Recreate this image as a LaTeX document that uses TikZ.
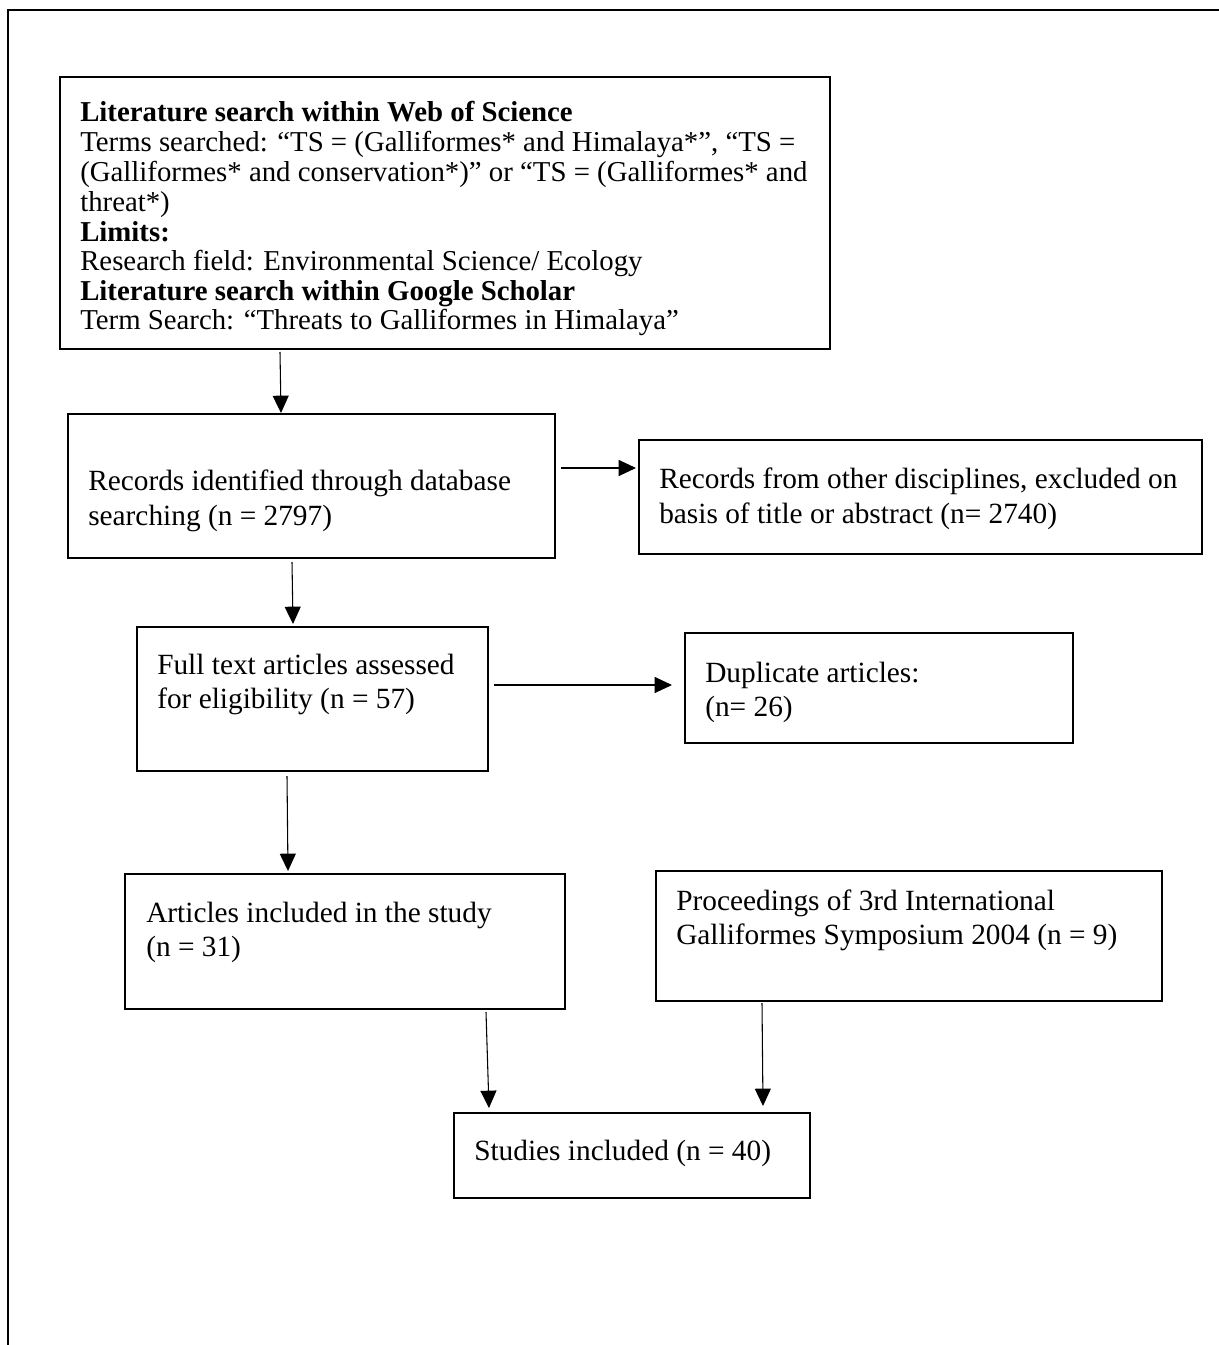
\documentclass[tikz,border=0pt]{standalone}
\usepackage{fontspec}
\setmainfont{Liberation Serif}
\usetikzlibrary{arrows.meta}
\begin{document}
\begin{tikzpicture}[x=0.75pt,y=-0.75pt,
  boxline/.style={draw=black,line width=1.7pt,inner sep=0pt,anchor=north west},
  frameline/.style={draw=black,line width=1.7pt},
  arr/.style={draw=black,line width=0.8pt,-{Triangle[length=13pt,width=12pt]}},
  txt/.style={anchor=base west,inner sep=0pt,font=\fontsize{22pt}{26pt}\selectfont},
  toptxt/.style={txt,font=\fontsize{21.6pt}{26pt}\selectfont}
]
\useasboundingbox (0,0) rectangle (1219,1345);
% outer partial frame
\draw[frameline] (8,1345) -- (8,10) -- (1219,10);

% boxes
\node[boxline,minimum width=770*0.75pt,minimum height=272*0.75pt] (top) at (59,76) {};
\node[boxline,minimum width=487*0.75pt,minimum height=144*0.75pt] (rec) at (67,413) {};
\node[boxline,minimum width=563*0.75pt,minimum height=114*0.75pt] (oth) at (638,439) {};
\node[boxline,minimum width=351*0.75pt,minimum height=144*0.75pt] (full) at (136,626) {};
\node[boxline,minimum width=388*0.75pt,minimum height=110*0.75pt] (dup) at (684,632) {};
\node[boxline,minimum width=440*0.75pt,minimum height=135*0.75pt] (art) at (124,873) {};
\node[boxline,minimum width=506*0.75pt,minimum height=130*0.75pt] (proc) at (655,870) {};
\node[boxline,minimum width=356*0.75pt,minimum height=85*0.75pt] (stud) at (453,1112) {};

% texts: top box
\node[toptxt] (t1) at (80,121) {\textbf{Literature search within Web of Science}};
\node[toptxt] (t2) at (80,151) {Terms searched: “TS = (Galliformes* and Himalaya*”, “TS =};
\node[toptxt] (t3) at (80,181) {(Galliformes* and conservation*)” or “TS = (Galliformes* and};
\node[toptxt] (t4) at (80,211) {threat*)};
\node[toptxt] (t5) at (80,241) {\textbf{Limits:}};
\node[toptxt] (t6) at (80,270) {Research field: Environmental Science/ Ecology};
\node[toptxt] (t7) at (80,300) {\textbf{Literature search within Google Scholar}};
\node[toptxt] (t8) at (80,329) {Term Search: “Threats to Galliformes in Himalaya”};

\node[txt] (r1) at (88,490) {Records identified through database};
\node[txt] (r2) at (88,525) {searching (n = 2797)};

\node[txt] (o1) at (659,488) {Records from other disciplines, excluded on};
\node[txt] (o2) at (659,523) {basis of title or abstract (n= 2740)};

\node[txt] (f1) at (157,674) {Full text articles assessed};
\node[txt] (f2) at (157,708) {for eligibility (n = 57)};

\node[txt] (d1) at (705,682) {Duplicate articles:};
\node[txt] (d2) at (705,716) {(n= 26)};

\node[txt] (a1) at (146,922) {Articles included in the study};
\node[txt] (a2) at (146,956) {(n = 31)};

\node[txt] (p1) at (676,910) {Proceedings of 3rd International};
\node[txt] (p2) at (676,944) {Galliformes Symposium 2004 (n = 9)};

\node[txt] (s1) at (474,1160) {Studies included (n = 40)};

% arrows
\coordinate (c1s) at (280,352);
\coordinate (c1e) at (281,413);
\draw[arr] (c1s) -- (c1e);
\coordinate (c2s) at (561,468);
\coordinate (c2e) at (636,468);
\draw[arr] (c2s) -- (c2e);
\coordinate (c3s) at (292,562);
\coordinate (c3e) at (293,624);
\draw[arr] (c3s) -- (c3e);
\coordinate (c4s) at (494,685);
\coordinate (c4e) at (672,685);
\draw[arr] (c4s) -- (c4e);
\coordinate (c5s) at (287,776);
\coordinate (c5e) at (288,871);
\draw[arr] (c5s) -- (c5e);
\coordinate (c6s) at (486,1012);
\coordinate (c6e) at (489,1108);
\draw[arr] (c6s) -- (c6e);
\coordinate (c7s) at (762,1003);
\coordinate (c7e) at (763,1106);
\draw[arr] (c7s) -- (c7e);
\end{tikzpicture}
\end{document}
